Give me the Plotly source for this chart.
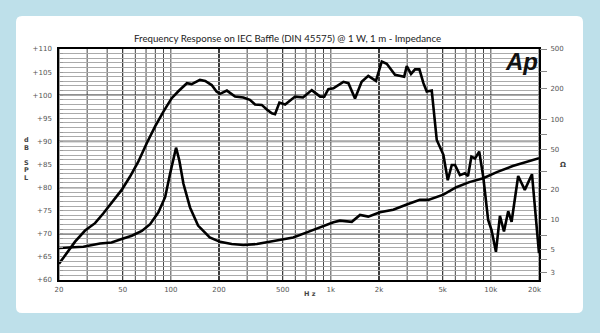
import math
import plotly.graph_objects as go

# ---------------- data ----------------
freq_spl = [20, 25.2, 29.1, 33.6, 37.8, 43.7, 49.3, 55.6, 62.6, 70.7, 79.6, 89.7, 101, 111, 126,
            135, 152, 164, 180, 193, 203, 224, 252, 284, 312, 336, 370, 398, 428, 448, 477, 518,
            598, 670, 760, 858, 910, 965, 1038, 1198, 1288, 1416, 1558, 1714, 1914, 2082, 2236,
            2518, 2872, 2982, 3170, 3360, 3578, 3790, 3976, 4272, 4592, 5052, 5380, 5700, 5970,
            6412, 6880, 7200, 7560, 7962, 8460, 8960, 9620, 10100, 10760, 11400, 12080, 12840,
            13480, 14820, 16300, 18080, 20000]
spl_db = [63.5, 68.3, 70.7, 72.3, 74.4, 77.3, 79.5, 82.4, 85.6, 89.6, 93.2, 96.4, 99.3, 100.8, 102.6,
          102.4, 103.3, 103.1, 102.2, 100.8, 100.3, 101.0, 99.7, 99.5, 99.0, 98.0, 97.9, 96.9, 96.1,
          95.9, 98.4, 98.0, 99.7, 99.5, 101.1, 99.7, 99.7, 101.3, 101.5, 102.9, 102.6, 99.3, 102.9,
          104.2, 103.1, 107.3, 106.8, 104.4, 104.0, 106.3, 104.6, 105.6, 105.6, 102.6, 100.8, 101.0,
          90.3, 87.1, 81.6, 84.9, 84.9, 82.7, 83.1, 82.5, 86.7, 86.3, 87.8, 82.4, 73.0, 70.8, 66.1,
          73.9, 70.5, 74.9, 72.6, 82.5, 79.5, 82.9, 65.8]

freq_imp = [20, 28.4, 36.1, 42.6, 49.3, 57.0, 65.9, 74.2, 83.6, 92.1, 98.9, 104.8, 107.8, 113, 119.9,
            131.8, 148, 175, 203, 240, 284, 345, 416, 504, 582, 708, 858, 1038, 1140, 1352, 1522,
            1714, 2026, 2455, 2982, 3600, 4064, 5052, 6088, 7340, 8960, 10900, 13700, 16700, 20000]
impedance = [5.2, 5.36, 5.78, 5.9, 6.4, 6.9, 7.7, 9.0, 11.8, 16.7, 28.6, 43.5, 52, 38.8, 22.7,
             13.2, 8.7, 6.64, 6.0, 5.7, 5.57, 5.7, 6.0, 6.4, 6.64, 7.45, 8.35, 9.4, 9.75, 9.5, 11.1,
             10.7, 11.8, 12.5, 14.1, 15.7, 15.7, 17.7, 21.0, 23.6, 25.8, 29.7, 34.1, 37.4, 40.9]

x_tick_vals = [20, 50, 100, 200, 500, 1000, 2000, 5000, 10000, 20000]
x_tick_text = ["20", "50", "100", "200", "500", "1k", "2k", "5k", "10k", "20k\u00a0\u00a0\u00a0\u00a0"]
x_minor_vals = [m * d for d in (10, 100, 1000) for m in range(2, 10)] + [10000 * m for m in (2,)]
db_tick_vals = list(range(60, 111, 5))
db_tick_text = ["+%d" % v for v in db_tick_vals]
db_minor_vals = list(range(60, 111, 1))
db_dark_lines = [70, 80, 90, 100]
x_dark_lines = [200, 2000]
ohm_tick_vals = [3, 4, 5, 7, 10, 20, 30, 50, 70, 100, 200, 300, 500]
ohm_tick_text = ["3", "", "5", "", "10", "20", "", "50", "", "100", "200", "", "500"]

title_text = "Frequency Response on IEC Baffle (DIN 45575) @ 1 W, 1 m - Impedance"

# ---------------- geometry ----------------
W, H = 600, 333
L, R, T, B = 59, 539, 49, 280
pw, ph = R - L, B - T


def px(x):
    return (x - L) / pw


def py(y):
    return (B - y) / ph


tick_font = dict(family="DejaVu Sans", size=7, color="#555")

fig = go.Figure()
fig.add_trace(go.Scatter(x=freq_spl, y=spl_db, mode="lines", name="SPL",
                         line=dict(color="black", width=2.6), hoverinfo="skip"))
fig.add_trace(go.Scatter(x=freq_imp, y=impedance, mode="lines", name="Impedance", yaxis="y2",
                         line=dict(color="black", width=2.6), hoverinfo="skip"))

shapes = []
# white card with rounded corners
x0, x1, y0, y1 = px(16), px(583), py(313), py(16)
rx, ry = 6 / pw, 6 / ph
card = (f"M {x0+rx},{y0} L {x1-rx},{y0} Q {x1},{y0} {x1},{y0+ry} L {x1},{y1-ry} "
        f"Q {x1},{y1} {x1-rx},{y1} L {x0+rx},{y1} Q {x0},{y1} {x0},{y1-ry} "
        f"L {x0},{y0+ry} Q {x0},{y0} {x0+rx},{y0} Z")
shapes.append(dict(type="path", path=card, xref="paper", yref="paper",
                   fillcolor="white", line=dict(width=0), layer="below"))
for v in db_dark_lines:
    shapes.append(dict(type="line", xref="paper", yref="y", x0=0, x1=1, y0=v, y1=v,
                       line=dict(color="#777" if v == 90 else "#222", width=1.6 if v == 90 else 1.3),
                       layer="between"))
for v in x_dark_lines:
    shapes.append(dict(type="line", xref="x", yref="paper", x0=v, x1=v, y0=0, y1=1,
                       line=dict(color="#111", width=1.6), layer="between"))
for v in x_minor_vals + [50, 100, 500, 1000, 5000, 10000]:
    shapes.append(dict(type="line", xref="x", yref="paper", x0=v, x1=v, y0=0, y1=1,
                       line=dict(color="#333", width=0.9), layer="between"))

annotations = [
    dict(text=title_text, x=px(287), y=py(38), xref="paper", yref="paper", showarrow=False,
         xanchor="center", yanchor="middle", font=dict(family="Lato", size=9.7, color="#222")),
    dict(text="<b><i>Ap</i></b>", x=px(521), y=py(61), xref="paper", yref="paper", showarrow=False,
         xanchor="center", yanchor="middle", font=dict(family="Liberation Sans", size=24, color="#111")),
    dict(text="<b>H z</b>", x=px(310), y=py(294), xref="paper", yref="paper", showarrow=False,
         xanchor="center", yanchor="middle", font=dict(family="DejaVu Sans", size=6.5, color="#444")),
    dict(text="<b>Ω</b>", x=px(563), y=py(165), xref="paper", yref="paper", showarrow=False,
         xanchor="center", yanchor="middle", font=dict(family="DejaVu Sans", size=7, color="#444")),
]
for ch, yy in zip(["d", "B", "S", "P", "L"], [140, 148, 163, 170, 178]):
    annotations.append(dict(text="<b>%s</b>" % ch, x=px(26), y=py(yy), xref="paper", yref="paper",
                            showarrow=False, xanchor="center", yanchor="middle",
                            font=dict(family="DejaVu Sans", size=6.5, color="#444")))

fig.update_layout(
    width=W, height=H,
    margin=dict(l=L, r=W - R, t=T, b=H - B, pad=0),
    paper_bgcolor="#bee0ea", plot_bgcolor="white",
    showlegend=False,
    shapes=shapes, annotations=annotations,
    xaxis=dict(type="log", range=[math.log10(20), math.log10(20000)],
               tickmode="array", tickvals=x_tick_vals, ticktext=x_tick_text,
               tickfont=tick_font, ticks="", ticklabelstandoff=2,
               showgrid=False,
               showline=True, mirror=True, linecolor="black", linewidth=1.5, zeroline=False),
    yaxis=dict(range=[60, 110], tickmode="array", tickvals=db_tick_vals, ticktext=db_tick_text,
               tickfont=tick_font, ticks="inside", ticklen=4, tickcolor="#999",
               ticklabelstandoff=4,
               showgrid=True, gridcolor="#aaa", gridwidth=1,
               minor=dict(tickmode="array", tickvals=db_minor_vals, showgrid=True,
                          gridcolor="#aaa", gridwidth=1, ticks="inside", ticklen=4,
                          tickcolor="#999"),
               showline=True, mirror=True, linecolor="black", linewidth=1.5, zeroline=False),
    yaxis2=dict(type="log", range=[math.log10(2.5), math.log10(500)], overlaying="y", side="right",
                tickmode="array", tickvals=ohm_tick_vals, ticktext=ohm_tick_text,
                tickfont=tick_font, ticks="outside", ticklen=7, tickcolor="#888",
                ticklabelstandoff=2,
                showgrid=False, showline=False, zeroline=False),
)

fig.write_html("out.html")
